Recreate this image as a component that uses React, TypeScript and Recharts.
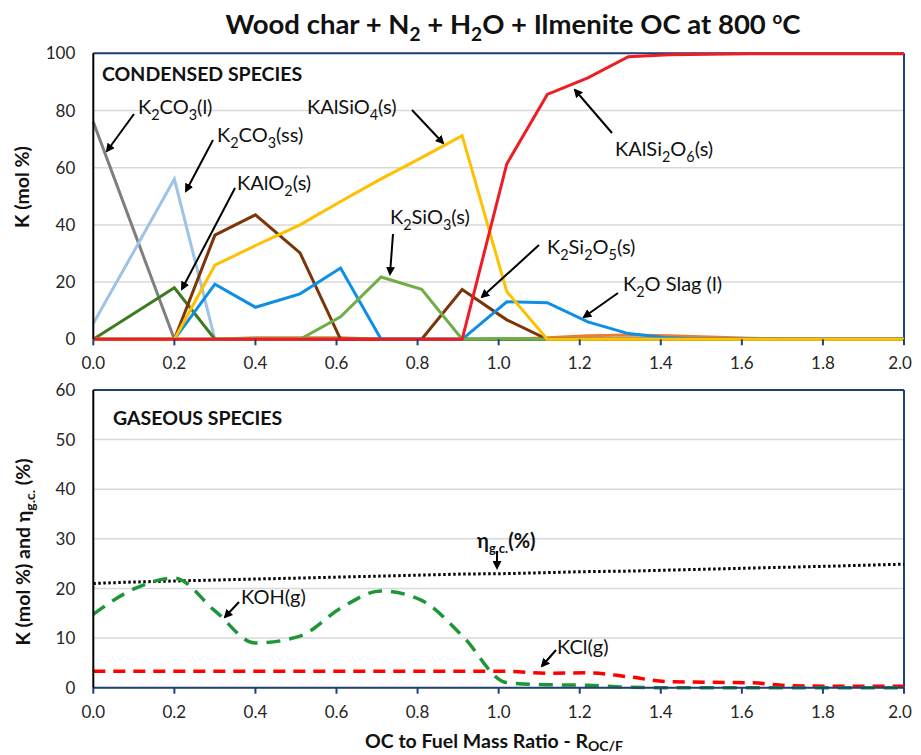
import React from 'react';
import { LineChart, Line, XAxis, YAxis, CartesianGrid, ReferenceLine } from 'recharts';

// OC to fuel mass ratio (the points sit slightly off the 0.1 grid in the source)
const ratios = [0, 0.1, 0.2, 0.3, 0.4, 0.51, 0.61, 0.71, 0.81, 0.91, 1.02, 1.12, 1.22, 1.32, 1.42, 1.52, 1.62, 1.72, 1.82, 1.91, 2.0];

// condensed species, K (mol %)
const k2co3L = [76, 38, 0, 0, 0, 0, 0, 0, 0, 0, 0, 0, 0, 0, 0, 0, 0, 0, 0, 0, 0];
const k2co3SS = [5.5, 30.7, 56, 0, 0, 0, 0, 0, 0, 0, 0, 0, 0, 0, 0, 0, 0, 0, 0, 0, 0];
const kalo2 = [0, 9, 18, 0, 0, 0, 0, 0, 0, 0, 0, 0, 0, 0, 0, 0, 0, 0, 0, 0, 0];
const k2si2o5 = [0, 0, 0, 36.4, 43.5, 30.2, 0, 0, 0, 17.4, 6.8, 0, 0, 0, 0, 0, 0, 0, 0, 0, 0];
const k2oSlag = [0, 0, 0, 19.3, 11.2, 15.9, 24.9, 0, 0, 0, 13.1, 12.8, 6.1, 2.0, 0.5, 0, 0, 0, 0, 0, 0];
const k2sio3 = [0, 0, 0, 0, 0, 0, 7.9, 21.8, 17.5, 0, 0.3, 0, 0, 0, 0, 0, 0, 0, 0, 0, 0];
const kalsio4 = [0, 0, 0, 25.9, 32.8, 40, 48.2, 56.1, 63.5, 71.2, 16.7, 0, 0, 0, 0, 0, 0, 0, 0, 0, 0];
const kalsi2o6 = [0, 0, 0, 0, 0, 0, 0, 0, 0, 0, 61.3, 85.6, 91.4, 98.8, 99.5, 99.7, 99.8, 99.8, 99.8, 99.8, 99.8];
const minorSpecies = [0, 0, 0, 0, 0.5, 0.5, 0.5, 0, 0, 0, 0, 0.5, 1.2, 1.5, 1.2, 0.8, 0.4, 0.1, 0, 0, 0];

// gaseous species, K (mol %) and gas conversion (%)
const koh = [14.8, 19.9, 22.1, 15.5, 9.0, 10.4, 16.0, 19.5, 17.6, 10.5, 1.0, 0.6, 0.5, 0.1, 0, 0, 0, 0, 0, 0, 0];
const kcl = [3.3, 3.3, 3.3, 3.3, 3.3, 3.3, 3.3, 3.3, 3.3, 3.3, 3.3, 2.9, 3.0, 2.2, 1.2, 1.1, 1.0, 0.4, 0.3, 0.3, 0.3];
const etaGC = [21.0, 21.3, 21.5, 21.7, 21.9, 22.1, 22.3, 22.5, 22.7, 22.9, 23.0, 23.2, 23.4, 23.5, 23.7, 23.9, 24.1, 24.3, 24.5, 24.7, 24.9];

const xTicks = [0, 0.2, 0.4, 0.6, 0.8, 1.0, 1.2, 1.4, 1.6, 1.8, 2.0];
const topTicks = [0, 20, 40, 60, 80, 100];
const bottomTicks = [0, 10, 20, 30, 40, 50, 60];

const topData = ratios.map((x, i) => ({
  x,
  k2co3L: k2co3L[i],
  k2co3SS: k2co3SS[i],
  kalo2: kalo2[i],
  k2si2o5: k2si2o5[i],
  k2oSlag: k2oSlag[i],
  k2sio3: k2sio3[i],
  kalsio4: kalsio4[i],
  kalsi2o6: kalsi2o6[i],
  minor: minorSpecies[i],
}));

const bottomData = ratios.map((x, i) => ({ x, koh: koh[i], kcl: kcl[i], eta: etaGC[i] }));

const FONT = "Lato, 'Open Sans', sans-serif";
const NAVY = '#1F3F77';
const tickStyle = { fontSize: 17, fill: '#262626', fontFamily: FONT };
const LABEL = 20;
const HEAD = 19.5;

// x tick; the last one is nudged in so it stays inside the page
const XTick = (props: any) => {
  const { x, y, payload } = props;
  const nudge = payload.value === 2 ? -4 : 0;
  return (
    <text x={x + nudge} y={y} dy="0.71em" textAnchor="middle" {...tickStyle}>
      {Number(payload.value).toFixed(1)}
    </text>
  );
};

// text with the digits written as subscripts (chemical formulas)
const Chem = ({ x, y, text, size = LABEL, weight = 400 }: { x: number; y: number; text: string; size?: number; weight?: number }) => {
  const parts = text.split(/(\d+)/).filter((p) => p !== '');
  const shift = size * 0.28;
  let low = false;
  return (
    <text x={x} y={y} fontSize={size} fontFamily={FONT} fontWeight={weight} fill="#111">
      {parts.map((p, i) => {
        const isSub = /^\d+$/.test(p);
        let dy = 0;
        if (isSub && !low) { dy = shift; low = true; }
        if (!isSub && low) { dy = -shift; low = false; }
        return (
          <tspan key={i} dy={dy} fontSize={isSub ? size * 0.72 : size}>{p}</tspan>
        );
      })}
    </text>
  );
};

const Arrow = ({ x1, y1, x2, y2 }: { x1: number; y1: number; x2: number; y2: number }) => (
  <line x1={x1} y1={y1} x2={x2} y2={y2} stroke="#000" strokeWidth={2} markerEnd="url(#arrowHead)" />
);

const Overlay = () => (
  <svg width={921} height={755} style={{ position: 'absolute', left: -8, top: -8, pointerEvents: 'none' }}>
    <defs>
      <marker id="arrowHead" markerWidth="9" markerHeight="9" refX="7" refY="4.5" orient="auto" markerUnits="userSpaceOnUse">
        <path d="M0,0 L9,4.5 L0,9 z" fill="#000" />
      </marker>
    </defs>

    <text x={513} y={34} textAnchor="middle" fontSize={27.5} fontWeight={700} fontFamily={FONT} fill="#111">
      <tspan>Wood char + N</tspan>
      <tspan dy={7} fontSize={19}>2</tspan>
      <tspan dy={-7}> + H</tspan>
      <tspan dy={7} fontSize={19}>2</tspan>
      <tspan dy={-7}>O + Ilmenite OC at 800 </tspan>
      <tspan dy={-10} fontSize={17}>o</tspan>
      <tspan dy={10}>C</tspan>
    </text>

    <text x={102} y={81} fontSize={HEAD} fontWeight={700} fontFamily={FONT} fill="#111">CONDENSED SPECIES</text>
    <text x={113} y={425} fontSize={HEAD} fontWeight={700} fontFamily={FONT} fill="#111">GASEOUS SPECIES</text>

    <text transform="translate(29,187) rotate(-90)" textAnchor="middle" fontSize={HEAD} fontWeight={700} fontFamily={FONT} fill="#111">K (mol %)</text>
    <text transform="translate(30,552) rotate(-90)" textAnchor="middle" fontSize={HEAD} fontWeight={700} fontFamily={FONT} fill="#111">
      <tspan>K (mol %) and η</tspan>
      <tspan dy={5} fontSize={14}>g.c.</tspan>
      <tspan dy={-5}> (%)</tspan>
    </text>
    <text x={494} y={748} textAnchor="middle" fontSize={HEAD} fontWeight={700} fontFamily={FONT} fill="#111">
      <tspan>OC to Fuel Mass Ratio - R</tspan>
      <tspan dy={3} fontSize={14}>OC/F</tspan>
    </text>

    <Chem x={138} y={114} text="K2CO3(l)" />
    <Arrow x1={134} y1={114} x2={107} y2={151} />
    <Chem x={217} y={142} text="K2CO3(ss)" />
    <Arrow x1={213} y1={140} x2={186} y2={191} />
    <Chem x={237} y={190} text="KAlO2(s)" />
    <Arrow x1={235} y1={188} x2={182} y2={289} />
    <Chem x={307} y={114} text="KAlSiO4(s)" />
    <Arrow x1={412} y1={110} x2={443} y2={143} />
    <Chem x={390} y={224} text="K2SiO3(s)" />
    <Arrow x1={393} y1={234} x2={390} y2={274} />
    <Chem x={615} y={156} text="KAlSi2O6(s)" />
    <Arrow x1={612} y1={133} x2={575} y2={90} />
    <Chem x={547} y={254} text="K2Si2O5(s)" />
    <Arrow x1={539} y1={245} x2={482} y2={297} />
    <Chem x={623} y={291} text="K2O Slag (l)" />
    <Arrow x1={618} y1={293} x2={584} y2={317} />

    <Chem x={241} y={604} text="KOH(g)" />
    <Arrow x1={239} y1={602} x2={225} y2={617} />
    <Chem x={557} y={654} text="KCl(g)" />
    <Arrow x1={556} y1={650} x2={542} y2={666} />
    <text x={477} y={548} fontSize={LABEL} fontWeight={700} fontFamily={FONT} fill="#111">
      <tspan>η</tspan>
      <tspan dy={5} fontSize={13}>g.c.</tspan>
      <tspan dy={-5}>(%)</tspan>
    </text>
    <Arrow x1={497} y1={551} x2={497} y2={568} />
  </svg>
);

const xAxisProps = {
  dataKey: 'x',
  type: 'number' as const,
  domain: [0, 2],
  ticks: xTicks,
  tick: XTick,
  tickSize: 6,
  tickMargin: 12,
  height: 30,
  tickLine: { stroke: NAVY, strokeWidth: 2 },
  interval: 0 as const,
};

const App = () => {
  return (
    <div style={{ position: 'relative', width: 905, height: 747, background: '#fff' }}>
      <div style={{ position: 'absolute', left: 0, top: 0 }}>
        <LineChart width={905} height={380} data={topData} margin={{ top: 45.3, right: 9, bottom: 18.7, left: 25.3 }}>
          <CartesianGrid vertical={false} stroke="#D9D9D9" strokeWidth={1.5} />
          <XAxis {...xAxisProps} axisLine={false} />
          <YAxis
            type="number"
            domain={[0, 100]}
            ticks={topTicks}
            width={60}
            tick={tickStyle}
            tickLine={false}
            tickSize={6}
            tickMargin={12}
            axisLine={{ stroke: '#000', strokeWidth: 2 }}
          />
          <ReferenceLine y={100} stroke={NAVY} strokeWidth={2} />
          <ReferenceLine x={2} stroke={NAVY} strokeWidth={2} />
          <Line type="linear" dataKey="minor" stroke="#ED7D31" strokeWidth={3} dot={false} isAnimationActive={false} />
          <Line type="linear" dataKey="k2co3L" stroke="#7F7F7F" strokeWidth={3} dot={false} isAnimationActive={false} />
          <Line type="linear" dataKey="k2co3SS" stroke="#9DC3E6" strokeWidth={3} dot={false} isAnimationActive={false} />
          <Line type="linear" dataKey="kalo2" stroke="#3D7A22" strokeWidth={3} dot={false} isAnimationActive={false} />
          <Line type="linear" dataKey="k2si2o5" stroke="#7B3508" strokeWidth={3} dot={false} isAnimationActive={false} />
          <Line type="linear" dataKey="k2oSlag" stroke="#0E8FE6" strokeWidth={3} dot={false} isAnimationActive={false} />
          <Line type="linear" dataKey="k2sio3" stroke="#70AD47" strokeWidth={3} dot={false} isAnimationActive={false} />
          <Line type="linear" dataKey="kalsio4" stroke="#FFC000" strokeWidth={3} dot={false} isAnimationActive={false} />
          <Line type="linear" dataKey="kalsi2o6" stroke="#EE1C24" strokeWidth={3} dot={false} isAnimationActive={false} />
        </LineChart>
      </div>
      <div style={{ position: 'absolute', left: 0, top: 370 }}>
        <LineChart width={905} height={377} data={bottomData} margin={{ top: 12, right: 9, bottom: 37.3, left: 25.3 }}>
          <CartesianGrid vertical={false} stroke="#D9D9D9" strokeWidth={1.5} />
          <XAxis {...xAxisProps} axisLine={{ stroke: NAVY, strokeWidth: 2 }} />
          <YAxis
            type="number"
            domain={[0, 60]}
            ticks={bottomTicks}
            width={60}
            tick={tickStyle}
            tickLine={false}
            tickSize={6}
            tickMargin={12}
            axisLine={{ stroke: '#000', strokeWidth: 2 }}
          />
          <ReferenceLine y={60} stroke={NAVY} strokeWidth={2} />
          <ReferenceLine x={2} stroke={NAVY} strokeWidth={2} />
          <Line type="monotone" dataKey="eta" stroke="#000" strokeWidth={3} strokeDasharray="2.5 2.5" dot={false} isAnimationActive={false} />
          <Line type="monotone" dataKey="kcl" stroke="#FF0000" strokeWidth={3.5} strokeDasharray="12 8" dot={false} isAnimationActive={false} />
          <Line type="monotone" dataKey="koh" stroke="#1E9638" strokeWidth={3.5} strokeDasharray="14 9" dot={false} isAnimationActive={false} />
        </LineChart>
      </div>
      <Overlay />
    </div>
  );
};

export default App;
